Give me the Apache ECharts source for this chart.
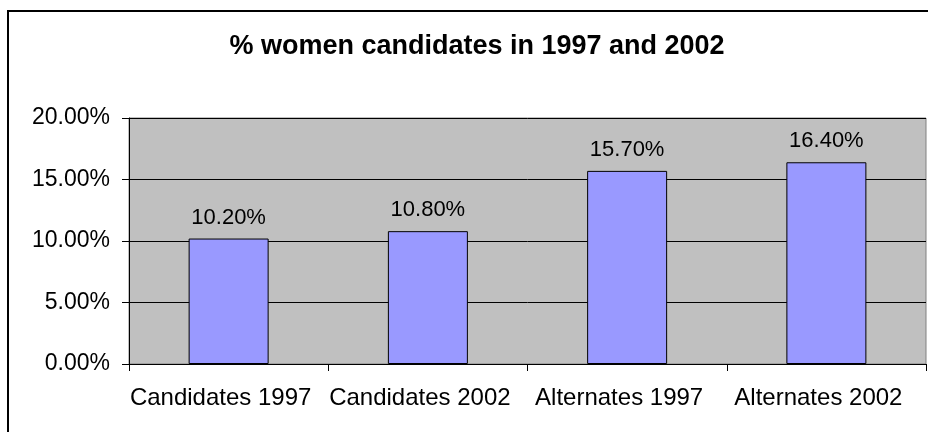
<!DOCTYPE html>
<html>
<head>
<meta charset="utf-8">
<script src="https://cdn.jsdelivr.net/npm/echarts@6/dist/echarts.min.js"></script>
<style>
  html, body { margin: 0; padding: 0; background: #ffffff; }
  #chart { width: 928px; height: 432px; }
</style>
</head>
<body>
<div id="chart"></div>
<script>
// Share of women among candidates and alternates
const titleText = '% women candidates in 1997 and 2002';
const categories = ['Candidates 1997', 'Candidates 2002', 'Alternates 1997', 'Alternates 2002'];
const shareWomen = [0.102, 0.108, 0.157, 0.164];

const FONT = '"Liberation Sans", Arial, sans-serif';
const pct = v => (v * 100).toFixed(2) + '%';

const chart = echarts.init(document.getElementById('chart'), null, { renderer: 'canvas' });

chart.setOption({
  backgroundColor: '#ffffff',
  animation: false,
  graphic: [
    {
      type: 'rect',
      z: -10,
      shape: { x: 8, y: 11, width: 1000, height: 500 },
      style: { fill: 'none', stroke: '#000000', lineWidth: 2 }
    },
    {
      type: 'text',
      x: 477,
      y: 47,
      style: {
        text: titleText,
        fill: '#000000',
        font: 'bold 27px ' + FONT,
        textAlign: 'center',
        textVerticalAlign: 'middle'
      }
    }
  ],
  grid: {
    left: 129,
    right: 2,
    top: 118,
    bottom: 68,
    show: true,
    backgroundColor: '#C0C0C0',
    borderColor: '#808080',
    borderWidth: 1
  },
  xAxis: {
    type: 'category',
    data: categories,
    axisLine: { show: true, lineStyle: { color: '#000000', width: 1 } },
    axisTick: { show: true, length: 7, lineStyle: { color: '#000000' } },
    axisLabel: {
      color: '#000000',
      fontFamily: FONT,
      fontSize: 24,
      margin: 22,
      interval: 0,
      padding: [0, 16, 0, 0]
    },
    splitLine: { show: false }
  },
  yAxis: {
    type: 'value',
    min: 0,
    max: 0.20,
    interval: 0.05,
    axisLine: { show: true, lineStyle: { color: '#000000', width: 1 } },
    axisTick: { show: true, length: 7, lineStyle: { color: '#000000' } },
    axisLabel: {
      color: '#000000',
      fontFamily: FONT,
      fontSize: 23,
      margin: 19,
      formatter: pct
    },
    splitLine: { show: true, lineStyle: { color: '#000000', width: 1 } }
  },
  series: [
    {
      type: 'bar',
      data: shareWomen,
      barWidth: 80,
      itemStyle: { color: '#9999FF', borderColor: '#000000', borderWidth: 1 },
      label: {
        show: true,
        position: 'top',
        distance: 10,
        color: '#000000',
        fontFamily: FONT,
        fontSize: 22,
        formatter: p => pct(p.value)
      }
    }
  ]
});
</script>
</body>
</html>
